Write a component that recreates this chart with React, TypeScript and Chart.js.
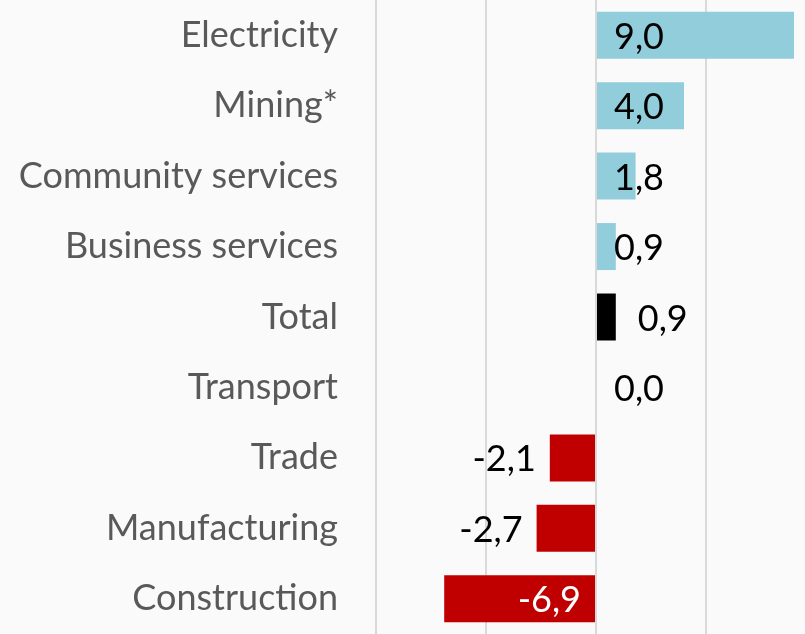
import React, { useEffect, useRef } from "react";
import { Chart, registerables } from "chart.js";

Chart.register(...registerables);

const categories = [
  "Electricity",
  "Mining*",
  "Community services",
  "Business services",
  "Total",
  "Transport",
  "Trade",
  "Manufacturing",
  "Construction",
];
const values = [9.0, 4.0, 1.8, 0.9, 0.9, 0.0, -2.1, -2.7, -6.9];
const totalLabel = "Total";

const BLUE = "#92cddc";
const RED = "#c00000";
const BLACK = "#000000";
const FONT = "Lato, 'Open Sans', sans-serif";

const labelPlugin = {
  id: "valueLabels",
  afterDatasetsDraw(chart: any) {
    const ctx = chart.ctx;
    const meta = chart.getDatasetMeta(0);
    const xs = chart.scales.x;
    const zero = xs.getPixelForValue(0);
    ctx.save();
    ctx.font = `36px ${FONT}`;
    ctx.textBaseline = "middle";
    meta.data.forEach((bar: any, i: number) => {
      const v = values[i];
      const txt = v.toFixed(1).replace(".", ",");
      const y = bar.y + 2;
      if (categories[i] === totalLabel) {
        ctx.fillStyle = "#000";
        ctx.textAlign = "left";
        ctx.fillText(txt, xs.getPixelForValue(v) + 22, y);
      } else if (v >= 0) {
        ctx.fillStyle = "#000";
        ctx.textAlign = "left";
        ctx.fillText(txt, zero + 18, y);
      } else if (v < -5) {
        ctx.fillStyle = "#fff";
        ctx.textAlign = "right";
        ctx.fillText(txt, zero - 15, y);
      } else {
        ctx.fillStyle = "#000";
        ctx.textAlign = "right";
        ctx.fillText(txt, xs.getPixelForValue(v) - 14, y);
      }
    });
    ctx.restore();
  },
};

export default function App() {
  const ref = useRef<HTMLCanvasElement>(null);
  useEffect(() => {
    document.body.style.margin = "0";
    document.body.style.background = "#fafafa";
    const colors = values.map((v, i) =>
      categories[i] === totalLabel ? BLACK : v >= 0 ? BLUE : RED
    );
    const chart = new Chart(ref.current!, {
      type: "bar",
      data: {
        labels: categories,
        datasets: [
          {
            data: values,
            backgroundColor: colors,
            borderWidth: 0,
            barPercentage: 0.667,
            categoryPercentage: 1,
          },
        ],
      },
      options: {
        indexAxis: "y",
        animation: false,
        responsive: false,
        maintainAspectRatio: false,
        layout: { padding: 0 },
        plugins: { legend: { display: false }, tooltip: { enabled: false } },
        scales: {
          x: {
            min: -10,
            max: 9.5,
            ticks: { display: false, stepSize: 5 },
            border: { display: false },
            grid: {
              drawTicks: false,
              lineWidth: 2,
              color: (c: any) =>
                c.tick && c.tick.value % 5 === 0 ? "#d9d9d9" : "rgba(0,0,0,0)",
            },
          },
          y: {
            grid: { display: false, drawTicks: false },
            border: { display: false },
            ticks: {
              color: "#595959",
              font: { family: FONT, size: 36 },
              padding: 38,
            },
            afterFit: (s: any) => {
              s.width = 376;
              s.paddingTop = 0;
              s.paddingBottom = 0;
            },
          },
        },
      },
      plugins: [labelPlugin],
    });
    return () => chart.destroy();
  }, []);
  return (
    <div style={{ width: 805, height: 634, background: "#fafafa" }}>
      <canvas ref={ref} width={805} height={634} />
    </div>
  );
}
